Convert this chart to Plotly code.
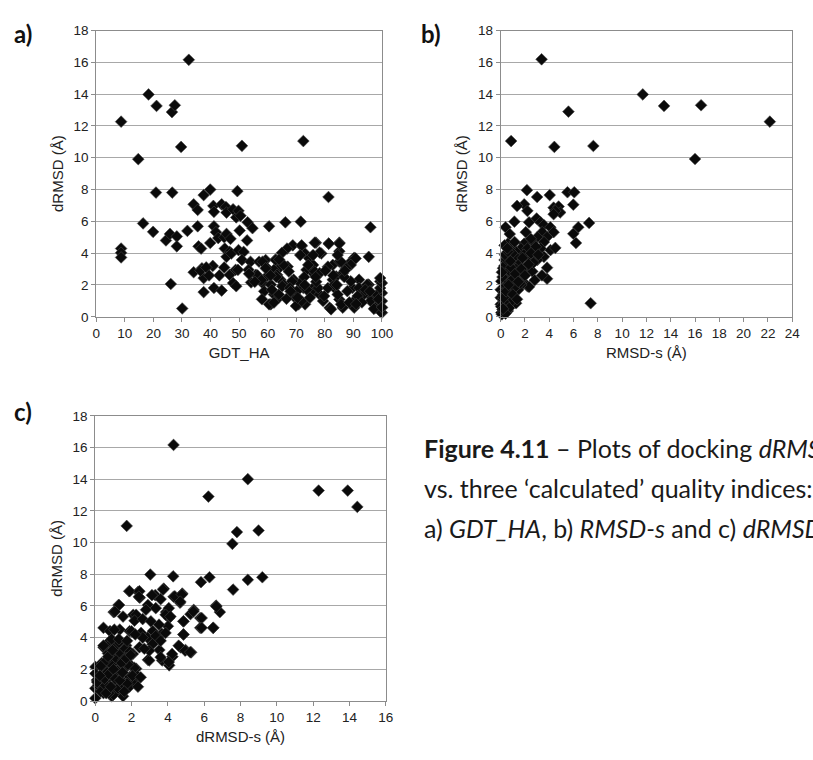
import plotly.graph_objects as go

# ---------------- Panel a: dRMSD vs GDT_HA ----------------
a_gdt = [8.7, 8.7, 8.7, 8.7, 14.7, 16.4, 18.3, 21.1, 20.9, 19.9, 24.4, 25.8, 26.5, 27.5, 26.6, 28.2, 28.2, 26.1,
         29.7, 30.1, 32.4, 31.9, 34.1, 35.5, 37.6, 39.9, 35.5, 35.8, 36.7, 39.9, 34.1, 37.0, 37.6, 37.6, 40.8,
         41.2, 43.9, 43.1, 44.8, 46.7, 47.9, 49.0, 48.8, 41.0, 41.2, 43.9, 45.4, 45.6, 47.9, 49.0, 41.2, 41.9,
         42.7, 44.8, 45.6, 47.0, 45.0, 46.7, 45.6, 47.3, 49.4, 49.8, 50.5, 53.0, 50.2, 54.7, 52.8, 49.8, 51.6,
         51.0, 54.0, 49.6, 53.3, 54.2, 51.0, 72.5, 60.5, 66.2, 71.6, 81.3, 96.0, 95.4, 76.9, 81.4, 85.1, 78.8,
         85.1, 90.3, 68.8, 66.8, 65.0, 71.9, 73.1, 74.6, 75.9, 75.4, 73.6, 57.0, 59.3, 62.8, 64.5, 67.0, 36.5,
         38.5, 39.5, 59.9, 62.2, 63.3, 59.9, 55.9, 58.2, 61.1, 64.5, 65.6, 62.2, 61.1, 63.9, 69.1, 71.4, 72.5,
         75.9, 69.6, 70.8, 73.1, 75.9, 78.2, 82.8, 83.4, 85.1, 81.7, 86.3, 89.7, 92.0, 90.3, 93.1, 95.4, 96.5,
         99.4, 100.0, 100.0, 100.0, 82.8, 85.1, 88.0, 89.1, 86.3, 84.0, 74.2, 76.5, 78.2, 58.2, 59.3, 58.8,
         60.5, 62.2, 63.9, 62.8, 65.6, 67.4, 68.5, 65.1, 66.6, 69.6, 69.9, 71.9, 73.7, 74.8, 77.7, 79.4, 81.1,
         82.2, 83.4, 84.5, 85.7, 87.9, 89.1, 90.8, 92.0, 93.7, 94.8, 96.0, 97.7, 98.3, 99.4, 99.8, 100.0, 100.0,
         99.4, 90.8, 89.1, 87.4, 85.7, 84.5, 85.1, 81.4, 81.1, 78.2, 76.5, 75.9, 71.9, 71.4, 56.5, 57.8, 61.5,
         63.0, 67.8, 70.2, 72.8, 77.0, 79.8, 83.0, 86.8, 88.6, 91.5, 93.0, 94.2, 95.8, 97.2, 98.8, 100.0, 91.0,
         87.0, 84.2, 80.2, 76.8, 73.0, 70.5, 68.0, 64.0, 61.0, 58.0, 55.5, 53.5]
a_drmsd = [12.27, 4.29, 4.02, 3.73, 9.91, 5.87, 13.98, 13.26, 7.81, 5.34, 4.8, 5.21, 12.87, 13.3, 7.81, 5.05,
           4.43, 2.06, 10.68, 0.52, 16.16, 5.4, 7.07, 6.72, 7.65, 8.0, 5.69, 4.43, 4.29, 4.64, 2.8, 3.05, 2.43,
           1.55, 3.2, 1.81, 1.65, 2.6, 3.1, 2.64, 2.12, 1.92, 2.95, 6.97, 6.6, 7.07, 6.9, 6.55, 6.76, 6.25, 5.69,
           5.32, 4.95, 5.0, 5.21, 4.9, 4.29, 4.08, 3.77, 3.98, 7.9, 6.66, 6.35, 5.94, 5.42, 5.57, 4.8, 4.19, 4.08,
           3.57, 3.46, 2.95, 2.95, 2.16, 10.75, 11.05, 5.69, 5.94, 5.98, 7.53, 5.63, 3.77, 4.66, 4.6, 4.66, 3.98,
           4.12, 3.71, 4.49, 4.29, 4.02, 4.45, 3.98, 3.67, 3.26, 2.84, 2.95, 3.46, 3.57, 3.6, 3.15, 3.15, 2.9,
           3.1, 2.6, 3.05, 2.95, 2.64, 2.57, 2.64, 2.12, 2.02, 2.33, 2.02, 1.4, 0.78, 1.2, 2.33, 2.12, 1.81, 1.81,
           1.2, 0.78, 0.78, 1.5, 1.4, 2.33, 1.81, 1.09, 0.57, 0.57, 1.81, 2.33, 0.57, 1.6, 2.02, 1.2, 2.22, 1.5,
           0.57, 0.26, 3.26, 3.46, 3.15, 3.46, 2.74, 2.54, 3.26, 2.84, 2.74, 3.46, 3.05, 1.6, 0.78, 0.89, 1.4,
           3.57, 3.26, 2.85, 2.23, 1.92, 1.13, 1.4, 0.68, 0.99, 1.71, 1.2, 1.81, 0.99, 1.81, 0.47, 2.02, 1.4, 0.78,
           1.61, 2.23, 1.09, 1.81, 1.4, 2.02, 0.99, 0.58, 1.4, 1.81, 0.27, 0.99, 2.12, 2.43, 3.67, 3.26, 3.05,
           3.46, 3.88, 4.6, 4.6, 3.15, 4.04, 4.66, 3.88, 4.49, 3.88, 2.6, 2.3, 1.7, 2.5, 1.8, 1.6, 2.5, 2.2, 1.3,
           2.6, 2.5, 0.9, 1.3, 0.9, 1.7, 1.6, 0.5, 1.1, 0.6, 0.8, 2.9, 2.0, 2.9, 2.5, 2.0, 1.2, 1.6, 3.6, 2.6,
           1.1, 2.2, 2.7, 3.2]

# ---------------- Panel b: dRMSD vs RMSD-s ----------------
b_rmsd = [3.37, 11.7, 13.45, 16.5, 22.16, 16.0, 5.58, 0.86, 4.42, 7.63, 7.41, 7.28, 6.39, 6.2, 5.98, 5.98, 5.5,
          6.06, 4.04, 3.0, 2.16, 1.94, 2.2, 1.35, 1.13, 0.4, 2.34, 2.96, 4.36, 4.77, 4.9, 4.5, 4.36, 3.29, 3.55,
          3.42, 4.09, 4.36, 3.82, 3.56, 3.02, 2.61, 2.07, 2.48, 1.94, 1.67, 1.27, 0.86, 0.59, 0.73, 0.32, 2.21,
          2.75, 3.29, 3.56, 3.02, 2.48, 2.21, 2.61, 1.94, 1.4, 1.54, 1.0, 0.59, 0.19, 0.32, 1.13, 1.8, 2.21, 1.4,
          0.86, 0.46, 0.05, 0.0, 0.19, 0.73, 1.13, 0.46, 0.0, 0.32, 0.05, 0.59, 0.0, 3.82, 3.82, 2.34, 1.27,
          4.1, 4.5, 0.9, 1.6, 2.4, 1.1, 0.7, 1.9, 2.7, 0.3, 0.5, 1.2, 1.5, 0.9, 0.2, 0.6, 1.7, 2.0, 2.9, 1.3,
          0.4, 0.8, 0.1, 0.25, 0.45, 0.65, 1.05, 1.45, 0.15, 0.35, 0.55, 0.75, 1.0, 1.25, 0.85, 0.2, 0.5, 0.95,
          1.6, 2.3, 2.5, 3.1, 3.4, 2.8, 1.8, 0.1, 0.3, 0.7, 0.05, 0.4,
          0.15, 0.3, 0.5, 0.7, 0.9, 1.1, 0.25, 0.45, 0.65, 0.85, 1.2, 1.45, 0.1, 0.35, 0.6, 0.8, 1.0, 1.35,
          1.7, 2.0, 0.2, 0.55, 0.75, 1.15]
b_drmsd = [16.19, 13.98, 13.26, 13.3, 12.27, 9.92, 12.9, 11.05, 10.68, 10.74, 0.85, 5.9, 5.63, 4.64, 5.22, 7.05,
           7.83, 7.83, 7.65, 7.53, 7.96, 7.07, 6.66, 6.97, 5.98, 5.63, 5.94, 6.18, 6.86, 6.93, 6.56, 6.66, 6.45,
           5.94, 5.77, 5.32, 5.63, 5.32, 5.01, 4.7, 5.01, 4.7, 5.32, 4.9, 4.6, 4.29, 4.08, 3.77, 4.6, 4.29, 4.49,
           4.29, 4.08, 4.29, 3.77, 3.57, 3.77, 3.25, 2.85, 3.05, 3.46, 2.74, 3.05, 3.26, 3.05, 3.57, 2.43, 2.23,
           1.92, 1.81, 2.12, 1.81, 2.23, 1.7, 1.4, 1.4, 1.2, 0.99, 0.78, 0.57, 0.26, 0.37, 1.2, 3.09, 2.39, 1.88,
           0.85, 4.19, 4.33, 2.6, 2.9, 3.6, 2.2, 2.4, 3.9, 3.4, 1.9, 2.7, 3.8, 3.3, 1.6, 1.1, 1.3, 2.0, 2.6, 4.4,
           2.8, 0.8, 1.0, 0.6, 1.55, 1.95, 2.5, 1.45, 1.7, 0.45, 1.15, 3.1, 3.5, 2.05, 3.0, 0.95, 0.35, 2.3, 4.0,
           2.1, 3.3, 4.0, 3.9, 2.6, 2.3, 3.7, 0.15, 0.9, 0.55, 0.65, 0.2,
           2.5, 3.2, 3.6, 2.9, 2.3, 1.8, 1.2, 1.6, 2.0, 3.1, 2.7, 2.2, 2.8, 3.9, 4.1, 3.5, 1.4, 1.1, 3.0, 2.6,
           0.5, 4.3, 5.2, 4.7]

# ---------------- Panel c: dRMSD vs dRMSD-s ----------------
c_drmsd_s = [4.31, 8.4, 12.3, 13.9, 14.43, 6.23, 1.73, 7.8, 8.99, 7.55, 9.2, 8.4, 7.59, 6.29, 5.82, 4.29, 3.03,
             3.77, 4.31, 4.79, 4.67, 3.3, 2.36, 1.87, 2.45, 1.28, 1.01, 2.09, 2.9, 3.9, 4.07, 4.85, 5.24, 5.42,
             6.65, 6.86, 5.78, 5.78, 6.5, 4.85, 4.7, 4.97, 5.28, 4.25, 4.07, 3.68, 3.53, 2.9, 3.3, 3.66, 4.0,
             3.17, 1.89, 2.43, 2.4, 3.12, 3.73, 3.6, 4.38, 4.77, 4.68, 2.79, 3.33, 4.05, 1.31, 1.08, 1.53, 2.25,
             2.16, 2.61, 3.06, 3.51, 3.87, 4.14, 4.86, 5.4, 5.86, 6.49, 6.67, 5.86, 4.86, 0.45, 0.81, 1.35, 1.89,
             2.52, 2.88, 3.33, 3.6, 3.15, 3.87, 4.59, 4.95, 5.23, 4.23, 4.05, 3.6, 2.97, 2.97, 2.43, 2.07, 1.53,
             0.81, 0.45, 1.17, 0.81, 1.71, 2.25, 1.89, 1.53, 0.99, 0.45, 0.0, 0.0, 0.09, 0.0, 0.0, 0.63, 1.17,
             0.81, 0.45, 1.35, 1.89, 0.9, 1.53, 0.18, 2.61, 0.3, 0.6, 1.0, 1.4, 1.8, 2.2, 0.2, 0.5, 0.7, 1.1, 1.6,
             2.0, 2.3, 0.35, 0.85, 1.25, 1.7, 0.15, 0.6, 1.0, 1.45, 0.3, 0.75, 1.2, 2.7, 2.0, 1.3, 0.55, 0.1,
             0.4, 0.65, 0.9, 1.15, 1.4, 1.65, 1.9, 2.15, 0.55, 0.8, 1.05, 1.3, 1.55, 1.8, 2.05, 0.3, 0.7, 0.95,
             1.2, 1.45, 1.7, 1.95, 2.35, 0.5, 0.75, 1.0, 1.25, 1.5, 1.75, 0.25, 0.6, 0.85, 1.1, 1.35, 1.6, 0.45,
             0.9, 1.3, 1.75, 2.2, 1.05, 1.5, 2.5, 2.8]
c_drmsd = [16.16, 14.0, 13.28, 13.28, 12.25, 12.9, 11.05, 10.66, 10.76, 9.92, 7.81, 7.65, 7.03, 7.81, 7.5, 7.87,
           7.98, 7.09, 6.58, 6.78, 6.2, 6.68, 6.89, 6.93, 6.52, 6.06, 5.61, 5.44, 6.06, 5.61, 5.24, 5.03, 5.48,
           5.75, 6.02, 5.61, 5.24, 4.62, 4.62, 4.2, 3.38, 3.22, 3.07, 2.8, 2.25, 2.56, 3.22, 2.6, 3.79, 4.25,
           4.72, 4.41, 6.93, 6.93, 6.58, 6.68, 7.03, 6.43, 6.61, 6.72, 6.27, 5.76, 5.86, 5.86, 6.06, 5.64, 5.33,
           5.44, 5.07, 5.17, 5.03, 4.82, 5.44, 5.33, 5.03, 5.65, 5.24, 4.62, 5.96, 4.62, 4.2, 4.62, 4.41, 4.51,
           4.41, 4.3, 4.0, 4.1, 3.8, 3.59, 4.3, 3.49, 3.18, 3.08, 2.97, 2.46, 2.77, 2.56, 3.18, 3.39, 2.97, 3.59,
           3.8, 3.39, 2.97, 2.56, 2.56, 2.04, 1.53, 1.94, 1.94, 1.73, 2.15, 1.73, 1.32, 0.8, 0.18, 1.32, 1.12,
           0.71, 0.5, 0.6, 0.91, 0.3, 0.3, 0.91, 4.0, 1.0, 1.5, 2.6, 3.2, 2.4, 1.2, 1.1, 2.2, 3.0, 1.8, 2.9, 2.2,
           1.6, 2.4, 3.6, 2.1, 3.5, 1.0, 0.7, 0.4, 1.3, 0.6, 0.5, 3.0, 3.3, 4.4, 1.9, 1.0,
           1.2, 1.5, 1.8, 2.3, 2.7, 3.0, 3.3, 3.1, 2.1, 2.5, 2.9, 3.4, 3.7, 2.6, 2.3, 1.6, 2.2, 2.8, 3.2, 1.9,
           2.4, 2.7, 2.9, 0.9, 1.4, 1.7, 2.0, 0.8, 1.1, 1.1, 1.6, 0.5, 0.9, 1.4, 1.3, 0.6, 3.5, 3.9, 3.9, 3.8,
           4.2, 4.5, 1.8, 1.5]

# ---------------- Text ----------------
panel_labels = ["a)", "b)", "c)"]
x_titles = ["GDT_HA", "RMSD-s (Å)", "dRMSD-s (Å)"]
y_title = "dRMSD (Å)"
caption_lines = ["<b>Figure 4.11</b> – Plots of docking <i>dRMSD</i>",
                 "vs. three ‘calculated’ quality indices:",
                 "a) <i>GDT_HA</i>, b) <i>RMSD-s</i> and c) <i>dRMSD-s</i>"]

W, H = 813, 760


def xd(l, r):
    return [l / W, r / W]


def yd(top, bottom):
    return [1 - bottom / H, 1 - top / H]


marker = dict(symbol="diamond", size=9, color="#0a0a0a", line=dict(width=0.6, color="#444444"))

fig = go.Figure()
fig.add_trace(go.Scatter(x=a_gdt, y=a_drmsd, mode="markers", marker=marker, xaxis="x", yaxis="y",
                         cliponaxis=False, showlegend=False))
fig.add_trace(go.Scatter(x=b_rmsd, y=b_drmsd, mode="markers", marker=marker, xaxis="x2", yaxis="y2",
                         cliponaxis=False, showlegend=False))
fig.add_trace(go.Scatter(x=c_drmsd_s, y=c_drmsd, mode="markers", marker=marker, xaxis="x3", yaxis="y3",
                         cliponaxis=False, showlegend=False))

tickfont = dict(family="Liberation Sans, Arial, sans-serif", size=13.5, color="#222222")
titlefont = dict(family="Liberation Sans, Arial, sans-serif", size=15, color="#222222")


def xaxis(domain, rng, dtick, anchor, title):
    return dict(domain=domain, range=rng, dtick=dtick, anchor=anchor, showgrid=False, zeroline=False,
                showline=True, linecolor="#8c8c8c", linewidth=1, mirror=True, ticks="outside", ticklen=4,
                tickcolor="#8c8c8c", tickfont=tickfont, title=dict(text=title, font=titlefont, standoff=7),
                fixedrange=True)


def yaxis(domain, anchor):
    return dict(domain=domain, range=[0, 18], dtick=2, anchor=anchor, showgrid=True, gridcolor="#a8a8a8",
                gridwidth=1, zeroline=False, showline=True, linecolor="#8c8c8c", linewidth=1, mirror=True,
                ticks="outside", ticklen=4, tickcolor="#8c8c8c", tickfont=tickfont,
                title=dict(text=y_title, font=titlefont, standoff=6), fixedrange=True)


fig.update_layout(
    width=W, height=H, margin=dict(l=0, r=0, t=0, b=0),
    paper_bgcolor="white", plot_bgcolor="white",
    xaxis=xaxis(xd(94, 385), [0, 100], 10, "y", x_titles[0]),
    yaxis=yaxis(yd(24, 316), "x"),
    xaxis2=xaxis(xd(506, 803), [0, 24], 2, "y2", x_titles[1]),
    yaxis2=yaxis(yd(24, 316), "x2"),
    xaxis3=xaxis(xd(93, 389), [0, 16], 2, "y3", x_titles[2]),
    yaxis3=yaxis(yd(417, 708), "x3"),
)

label_font = dict(family="Lato, Open Sans, sans-serif", size=24, color="#111111")
label_pos = [(8, 27), (423, 27), (8, 413)]
for txt, (px, py) in zip(panel_labels, label_pos):
    fig.add_annotation(text="<b>" + txt + "</b>", x=px / W, y=1 - py / H, xref="paper", yref="paper",
                       xanchor="left", yanchor="middle", showarrow=False, font=label_font)

cap_font = dict(family="Lato, Open Sans, sans-serif", size=25, color="#1a1a1a")
cap_y = [450, 491, 531]
for txt, py in zip(caption_lines, cap_y):
    fig.add_annotation(text=txt, x=426 / W, y=1 - py / H, xref="paper", yref="paper",
                       xanchor="left", yanchor="middle", showarrow=False, font=cap_font)

fig.write_html("out.html")
